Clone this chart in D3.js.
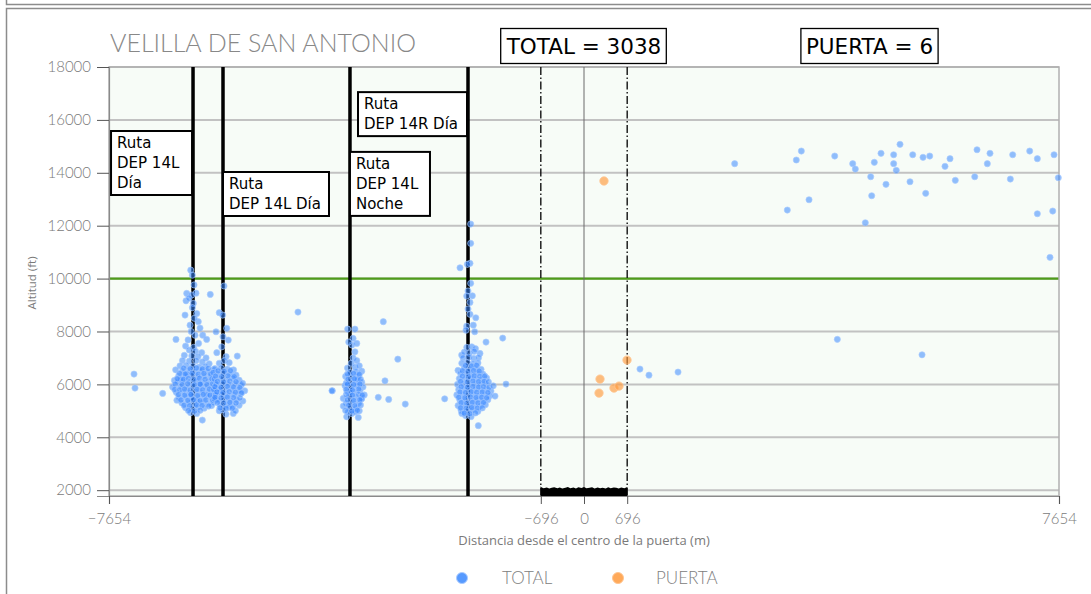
<!DOCTYPE html>
<html><head><meta charset="utf-8">
<script src="https://cdn.jsdelivr.net/npm/d3@7"></script>
<style>body{margin:0;background:#fff}svg{display:block}</style>
</head><body>
<svg id="c" width="1091" height="594"></svg>
<script>
// ---------------- DATA ----------------
const yTicks = [2000,4000,6000,8000,10000,12000,14000,16000,18000];
const xTicks = [-7654,-696,0,696,7654];
const gateHalf = 696;
const limitAlt = 10000;
const routeX = [-6300,-5817,-3771,-1869];
const routeLabels = [["Ruta","DEP 14L","Día"],["Ruta","DEP 14L Día"],["Ruta","DEP 14L","Noche"],["Ruta","DEP 14R Día"]];
const totalCount = 3038, gateCount = 6;

// clusters: [offset from route (m), altitude (ft)]
const cluster1 = [[-37,10320],[-11,10130],[16,9760],[-102,9440],[-21,9380],[48,9450],[-113,9160],[-64,9260],[5,9060],[278,9400],[-129,8620],[60,8680],[85,8370],[-48,8240],[113,8130],[32,7860],[156,7860],[220,7700],[-80,7680],[-10,8900],[20,8500],[-30,8000],[90,7550],[-120,7450],[10,7400],
[-60,7300],[40,7250],[140,7200],[-140,7100],[-20,7080],[80,7050],[210,7000],[-170,6900],[-60,6880],[50,6900],[150,6850],[260,6780],[-210,6700],[-110,6720],[-5,6690],[100,6650],[200,6680],[-280,6550],[-170,6500],[-60,6530],[40,6480],[140,6510],[240,6470],[330,6560],[-230,6320],[-120,6300],[-20,6340],[80,6280],[180,6310],[280,6290],[-300,6150],[-250,6100],[-150,6120],[-50,6080],[50,6130],[150,6070],[250,6110],[350,6060],[-330,5900],[-200,5920],[-100,5880],[0,5930],[100,5870],[200,5910],[300,5890],[400,5850],[-270,5700],[-160,5720],[-60,5680],[40,5740],[140,5690],[240,5710],[340,5670],[420,5720],[-220,5500],[-120,5520],[-20,5480],[80,5530],[180,5470],[280,5510],[380,5450],[-180,5300],[-70,5320],[30,5280],[130,5310],[230,5270],[330,5330],[-120,5120],[-20,5090],[80,5140],[180,5100],[-40,4930],[60,4900],[150,4650],[-100,6400],[120,6000],[-30,5600],[220,5600],[-200,6200],[60,5400],[300,5200],[-260,5400],
[-150,6610],[-45,6590],[55,6620],[150,6580],[245,6600],[-215,6410],[-125,6390],[-15,6420],[85,6380],[175,6410],[285,6390],[-255,6210],[-155,6190],[-75,6220],[15,6180],[105,6230],[195,6190],[305,6210],[-285,6010],[-175,5990],[-85,6020],[25,5980],[115,6010],[225,5990],[315,6020],[-295,5810],[-215,5790],[-135,5820],[-45,5780],[65,5810],[155,5790],[265,5820],[355,5790],[-235,5610],[-135,5590],[-35,5620],[75,5580],[165,5620],[275,5590],[365,5610],[-195,5410],[-85,5390],[5,5420],[115,5380],[205,5410],[315,5400],[-145,5210],[-55,5190],[55,5220],[145,5200],[255,5180],[-75,5010],[25,4990],[115,5020]];
const cluster2 = [[16,9720],[-60,8710],[-5,8620],[60,8120],[-113,7990],[85,7675],[-20,7420],[230,7070],[50,7050],[-100,7200],[20,6900],[-60,6800],[100,6820],[0,7800],
[-130,6600],[-30,6620],[70,6580],[170,6550],[-90,6400],[10,6420],[110,6380],[210,6350],[-140,6200],[-40,6220],[60,6180],[160,6230],[260,6160],[-110,6000],[-10,6020],[90,5980],[190,6010],[290,5970],[316,6040],[-150,5800],[-50,5820],[50,5780],[150,5810],[250,5790],[350,5760],[-120,5600],[-20,5620],[80,5580],[180,5610],[284,5660],[-80,5400],[20,5420],[120,5380],[220,5410],[320,5370],[-140,5450],[-40,5200],[60,5220],[160,5180],[260,5210],[0,5040],[100,5140],[166,4900],[48,4875],[-60,5000],[200,5000],[-160,6450],
[-80,6510],[20,6490],[120,6520],[-120,6310],[-20,6290],[80,6320],[180,6290],[-90,6110],[10,6090],[110,6120],[210,6100],[-130,5910],[-30,5890],[70,5920],[170,5900],[270,5880],[-100,5710],[0,5690],[100,5720],[200,5700],[300,5680],[-130,5510],[-30,5490],[70,5520],[170,5500],[270,5490],[-90,5310],[10,5290],[110,5320],[210,5300],[-50,5110],[50,5090],[150,5100]];
const cluster3 = [[-37,8090],[80,8090],[50,7740],[30,7490],[110,7550],[80,7230],[50,7000],[20,6800],[110,6900],[-20,7600],[80,6650],[-40,6620],[150,6700],[0,6450],[100,6480],[190,6500],[-70,6300],[40,6280],[140,6320],[-10,6100],[90,6120],[190,6080],[-80,5950],[20,5920],[120,5960],[210,5900],[-285,5760],[-40,5750],[60,5720],[160,5760],[-108,5470],[-10,5550],[90,5520],[190,5480],[230,5600],[-60,5300],[40,5330],[140,5290],[-108,5180],[0,5100],[100,5120],[186,5450],[-53,4775],[134,4750],[30,4900],[80,4960],[-30,4950],[150,5000],[10,5700],[120,6200],[-60,6050],
[-40,6390],[60,6410],[150,6380],[-30,6190],[70,6210],[170,6190],[-40,6010],[60,5990],[160,6010],[-60,5810],[40,5790],[140,5820],[-60,5610],[40,5590],[140,5620],[200,5590],[-40,5410],[60,5390],[160,5420],[-20,5210],[80,5190],[170,5220],[-70,5010],[30,4990],[120,5020]];
const cluster4 = [[43,12063],[43,11332],[32,10576],[-129,10410],[-10,10540],[43,9820],[0,9530],[70,9350],[-21,9340],[32,9100],[0,8850],[32,8650],[125,8520],[85,8240],[-21,8200],[108,7990],[-32,8050],[-161,6530],[-102,7110],[193,7170],[166,4440],
[-20,7400],[60,7420],[120,7350],[-60,7220],[20,7180],[100,7250],[-80,7000],[10,7030],[90,6980],[170,7010],[-100,6800],[-10,6820],[80,6780],[160,6810],[-60,6620],[30,6580],[120,6610],[210,6570],[-120,6420],[-30,6400],[60,6380],[150,6430],[240,6390],[-140,6220],[-50,6190],[40,6230],[130,6200],[220,6180],[300,6240],[-170,6000],[-80,6020],[10,5980],[100,6010],[190,5990],[280,6030],[-150,5800],[-60,5820],[30,5780],[120,5810],[210,5790],[300,5830],[370,5750],[-180,5600],[-90,5620],[0,5590],[90,5610],[180,5580],[270,5620],[350,5570],[-130,5400],[-40,5420],[50,5380],[140,5410],[230,5390],[320,5420],[-160,5200],[-70,5220],[20,5180],[110,5210],[200,5190],[280,5230],[-110,5010],[-20,4990],[70,5030],[160,4980],[-40,4820],[50,4780],[-100,4900],
[-40,6710],[60,6690],[140,6720],[-90,6510],[0,6490],[90,6520],[180,6500],[-90,6310],[10,6290],[100,6320],[190,6300],[270,6310],[-120,6110],[-10,6090],[80,6120],[170,6100],[260,6110],[330,6090],[-110,5910],[-10,5890],[80,5920],[170,5900],[250,5910],[340,5890],[-130,5710],[-40,5690],[50,5720],[140,5700],[230,5710],[320,5690],[-150,5510],[-50,5490],[40,5520],[130,5500],[220,5510],[300,5490],[-110,5310],[-20,5290],[70,5320],[160,5300],[250,5310],[-120,5110],[-30,5090],[60,5120],[150,5100],[230,5110],[-60,4910],[30,4890],[120,4920]];
// isolated TOTAL points [distance (m), altitude (ft)]
const scattered = [[-7251,6390],[-7235,5860],[-6789,5659],[-6575,7700],[-4609,8734],[-4061,5758],[-3234,8370],[-3000,6955],[-3207,6135],[-3315,5510],[-3147,5430],[-2880,5255],[-2245,5455],[-1579,7600],[-1310,7750],[-1257,6011],[-1434,5557],[-1462,5945],
[902,6580],[1047,6350],[1515,6465],
[2428,14343],[3421,14483],[3502,14823],[4040,14634],[4330,14343],[4372,14142],[4678,14396],[4786,14736],[4990,14683],[5092,15077],[4990,14343],[5032,14093],[5297,14683],[5463,14585],[5571,14634],[5817,14244],[5898,14532],[6333,14872],[6542,14736],[6499,14343],[6908,14683],[7182,14823],[7305,14532],[7574,14683],[7643,13813],[4620,13851],[4866,13564],[5253,13662],[5983,13715],[6296,13851],[6870,13764],[4636,13133],[5506,13223],[3626,12981],[3276,12592],[7305,12452],[7553,12554],[4533,12111],[7509,10803],[4082,7702],[5447,7119]];
// PUERTA points
const gatePoints = [[693,6918],[258,6200],[242,5670],[483,5860],[564,5935],[322,13690]];
// ground returns inside the gate
const stripX   = [-696,-690,-650,-600,-560,-520,-480,-430,-390,-350,-300,-260,-220,-170,-130,-90,-40,0,40,90,130,170,220,260,300,350,390,430,480,520,560,600,650,690,696];
const stripTop = [2180,2110,2070,2100,2060,2090,2110,2070,2100,2060,2090,2120,2070,2100,2060,2110,2080,2120,2070,2090,2110,2060,2100,2070,2090,2060,2110,2070,2100,2090,2060,2100,2070,2110,2060];

// ---------------- CHART ----------------
const svg = d3.select("#c");
const L=109,R=1059,T=67,B=496;
const x = d3.scaleLinear().domain([-7654,7654]).range([L,R]);
const y = d3.scaleLinear().domain([1780,18000]).range([B,T]);
const sans="Lato, 'Open Sans', sans-serif", osans="'Open Sans', sans-serif", dj="'DejaVu Sans', sans-serif";

// outer frames
svg.append("path").attr("d","M6.5,0V4.5H1091").attr("fill","none").attr("stroke","#8c8c8c").attr("stroke-width",1.5);
svg.append("path").attr("d","M1091,8.5H6.5V594").attr("fill","none").attr("stroke","#8c8c8c").attr("stroke-width",1.5);

// title
svg.append("text").attr("x",110).attr("y",52).text("VELILLA DE SAN ANTONIO")
  .attr("font-family",sans).attr("font-weight",300).attr("font-size",25).attr("fill","#888");

// plot background
svg.append("rect").attr("x",L).attr("y",T).attr("width",R-L).attr("height",B-T).attr("fill","#f7fcf7");

// gridlines
svg.append("g").selectAll("line").data(yTicks).join("line")
  .attr("x1",L).attr("x2",R).attr("y1",d=>y(d)).attr("y2",d=>y(d))
  .attr("stroke","#c2c2c2").attr("stroke-width",2);
// limit line
svg.append("line").attr("x1",L).attr("x2",R).attr("y1",y(limitAlt)).attr("y2",y(limitAlt))
  .attr("stroke","#4e9c1a").attr("stroke-width",2.2);

// frame
svg.append("rect").attr("x",L).attr("y",T).attr("width",R-L).attr("height",B-T)
  .attr("fill","none").attr("stroke","#b0b0b0").attr("stroke-width",1.5);

// axes
const yAxis = svg.append("g").attr("transform",`translate(${L},0)`)
  .call(d3.axisLeft(y).tickValues(yTicks).tickSize(12).tickPadding(6).tickFormat(d3.format("d")));
const xAxis = svg.append("g").attr("transform",`translate(0,${B})`)
  .call(d3.axisBottom(x).tickValues(xTicks).tickSize(8).tickPadding(9)
    .tickFormat(d=> d<0 ? "\u2212"+Math.abs(d) : String(d)));
[yAxis,xAxis].forEach(a=>{
  a.select(".domain").attr("stroke","#8a8a8a").attr("stroke-width",1.2);
  a.selectAll(".tick line").attr("stroke","#555").attr("stroke-width",1);
  a.selectAll(".tick text").attr("fill","#7a7a7a").attr("font-family",sans).attr("font-size",15).attr("font-weight",300);
});

// center line and gate limits
svg.append("line").attr("x1",x(0)).attr("x2",x(0)).attr("y1",T).attr("y2",B).attr("stroke","#6a6a6a").attr("stroke-width",1);
svg.append("g").selectAll("line").data([-gateHalf,gateHalf]).join("line")
  .attr("x1",d=>x(d)).attr("x2",d=>x(d)).attr("y1",T).attr("y2",B)
  .attr("stroke","#111").attr("stroke-width",1.4).attr("stroke-dasharray","8,2.5,1.5,2.5");

// route lines
svg.append("g").selectAll("line").data(routeX).join("line")
  .attr("x1",d=>x(d)).attr("x2",d=>x(d)).attr("y1",T).attr("y2",B)
  .attr("stroke","#000").attr("stroke-width",3.5);

// ground strip
svg.append("path").datum(stripX.map((d,i)=>[d,stripTop[i]]))
  .attr("d", d3.area().x(d=>x(d[0])).y0(y(1780)).y1(d=>y(d[1])))
  .attr("fill","#000");

// TOTAL points
const clusters=[cluster1,cluster2,cluster3,cluster4];
const total = [];
clusters.forEach((c,i)=>c.forEach(p=>total.push([routeX[i]+p[0],p[1]])));
scattered.forEach(p=>total.push(p));
const blue="#3a88ff", orange="#ff9a3c";
svg.append("g").selectAll("circle").data(total).join("circle")
  .attr("cx",d=>x(d[0])).attr("cy",d=>y(d[1])).attr("r",3.1)
  .attr("fill",blue).attr("fill-opacity",0.55)
  .attr("stroke","#a9cbff").attr("stroke-width",0.8).attr("stroke-opacity",0.8);
svg.append("g").selectAll("circle").data(gatePoints).join("circle")
  .attr("cx",d=>x(d[0])).attr("cy",d=>y(d[1])).attr("r",4.2)
  .attr("fill",orange).attr("fill-opacity",0.65)
  .attr("stroke","#ffc590").attr("stroke-width",0.8);

// route annotation boxes
const boxes=[{r:0,side:"left",w:81,top:15580},{r:1,side:"right",w:106,top:14030},{r:2,side:"right",w:80,top:14790},{r:3,side:"left",w:109,top:17050}];
boxes.forEach((b,i)=>{
  const lines=routeLabels[i];
  const rx=x(routeX[b.r]);
  const x0 = b.side==="left" ? rx-b.w-1 : rx;
  const y0 = y(b.top);
  const h = lines.length*20+4;
  const g=svg.append("g");
  g.append("rect").attr("x",x0).attr("y",y0).attr("width",b.w).attr("height",h)
    .attr("fill","#fff").attr("stroke","#000").attr("stroke-width",2);
  g.selectAll("text").data(lines).join("text")
    .attr("x",x0+6).attr("y",(d,j)=>y0+17+j*20).text(d=>d)
    .attr("font-family",dj).attr("font-size",15).attr("fill","#000");
});

// count boxes
function countBox(cx,label){
  const g=svg.append("g");
  const t=g.append("text").attr("x",cx).attr("y",54).attr("text-anchor","middle").text(label)
    .attr("font-family",dj).attr("font-size",21.5).attr("fill","#000");
  const bb=t.node().getBBox();
  g.insert("rect","text").attr("x",bb.x-5).attr("y",28.5).attr("width",bb.width+10).attr("height",35)
    .attr("fill","#fff").attr("stroke","#000").attr("stroke-width",1.3);
}
countBox(x(0),"TOTAL = "+totalCount);
countBox(869.5,"PUERTA = "+gateCount);

// axis titles
svg.append("text").attr("x",x(0)).attr("y",545).attr("text-anchor","middle")
  .text("Distancia desde el centro de la puerta (m)")
  .attr("font-family",osans).attr("font-size",13).attr("fill","#7a7a7a");
svg.append("text").attr("transform","translate(36,283) rotate(-90)").attr("text-anchor","middle")
  .text("Altitud (ft)").attr("font-family",osans).attr("font-size",11.5).attr("fill","#7a7a7a");

// legend
const leg=[{c:blue,s:"#a9cbff",t:"TOTAL",cx:462,tx:502},{c:orange,s:"#ffc590",t:"PUERTA",cx:618,tx:656}];
leg.forEach(l=>{
  svg.append("circle").attr("cx",l.cx).attr("cy",578).attr("r",5.5).attr("fill",l.c).attr("fill-opacity",0.85).attr("stroke",l.s).attr("stroke-width",1);
  svg.append("text").attr("x",l.tx).attr("y",584).text(l.t).attr("font-family",sans).attr("font-weight",300)
    .attr("font-size",17).attr("fill","#808080");
});
</script>
</body></html>
